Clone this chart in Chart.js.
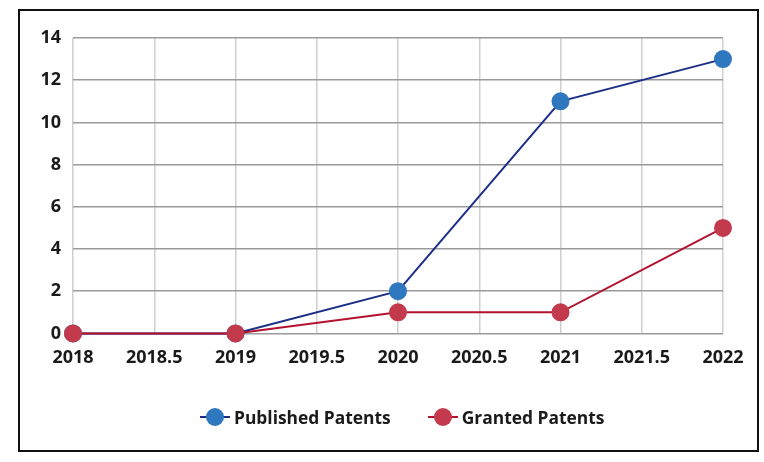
<!DOCTYPE html>
<html>
<head>
<meta charset="utf-8">
<script src="https://cdn.jsdelivr.net/npm/chart.js@4.4.0/dist/chart.umd.min.js"></script>
<style>
  body { margin: 0; background: #fff; }
  #wrap { position: relative; width: 764px; height: 462px; }
  #frame { position: absolute; left: 18px; top: 9px; width: 737px; height: 439px; border: 2px solid #111; }
  canvas { position: absolute; left: 0; top: 0; }
  #legend { position: absolute; left: 200px; top: 404px; display: flex; align-items: center;
    font-family: 'Open Sans', sans-serif; font-weight: bold; font-size: 17.4px; color: #1a1a1a; }
  .item { display: flex; align-items: center; margin-right: 37px; }
  .mark { width: 30px; height: 26px; margin-right: 4px; }
</style>
</head>
<body>
<div id="wrap">
  <div id="frame"></div>
  <canvas id="myChart" width="764" height="462"></canvas>
  <div id="legend"></div>
</div>
<script>
'use strict';

let years = [2018, 2019, 2020, 2021, 2022];
let publishedPatents = [0, 0, 2, 11, 13];
let grantedPatents = [0, 0, 1, 1, 5];
let yTicks = [0, 2, 4, 6, 8, 10, 12, 14];

function toPoints(values) {
  let pts = [];
  for (let i = 0; i < years.length; i++) {
    pts.push({ x: years[i], y: values[i] });
  }
  return pts;
}

let blueFill = '#2f78c0';
let blueLine = '#1c2f86';
let redFill = '#c23a4c';
let redLine = '#b3122e';

const chartGraphics = {
  type: 'scatter',
  data: {
    datasets: [{
      label: 'Published Patents',
      data: toPoints(publishedPatents),
      showLine: true,
      order: 2,
      clip: false,
      borderColor: blueLine,
      borderWidth: 2,
      backgroundColor: blueFill,
      pointBackgroundColor: blueFill,
      pointBorderColor: blueFill,
      pointRadius: 8,
      pointHoverRadius: 8
    },
    {
      label: 'Granted Patents',
      data: toPoints(grantedPatents),
      showLine: true,
      order: 1,
      clip: false,
      borderColor: redLine,
      borderWidth: 2,
      backgroundColor: redFill,
      pointBackgroundColor: redFill,
      pointBorderColor: redFill,
      pointRadius: 8,
      pointHoverRadius: 8
    }]
  },
  options: {
    responsive: false,
    animation: false,
    layout: { padding: { left: 10, right: 41, top: 38, bottom: 87 } },
    plugins: {
      tooltip: { enabled: false },
      legend: { display: false }
    },
    scales: {
      x: {
        type: 'linear',
        min: 2018,
        max: 2022,
        afterFit: function (axis) {
          axis.height = axis.height - 8;
        },
        ticks: {
          stepSize: 0.5,
          color: '#1a1a1a',
          padding: 14,
          font: { family: 'Open Sans', size: 18, weight: 'bold' },
          callback: function (v) { return String(v); }
        },
        grid: { color: '#cfcfcf', lineWidth: 1.5, drawTicks: false },
        border: { display: false }
      },
      y: {
        min: 0,
        max: 14,
        afterBuildTicks: function (axis) {
          axis.ticks = yTicks.map(function (v) { return { value: v }; });
        },
        afterFit: function (axis) {
          axis.width = 63;
        },
        ticks: {
          color: '#1a1a1a',
          padding: 12,
          font: { family: 'Open Sans', size: 18, weight: 'bold' }
        },
        grid: { color: '#9a9a9a', lineWidth: 1.5, drawTicks: false },
        border: { display: false }
      }
    }
  }
};

let canvasChart = document.getElementById('myChart').getContext('2d');
const myChart = new Chart(canvasChart, chartGraphics);

// html legend: a short line with a dot, then the series name
let legendBox = document.getElementById('legend');
myChart.data.datasets.forEach(function (ds) {
  let item = document.createElement('div');
  item.className = 'item';
  let mark = document.createElement('canvas');
  mark.className = 'mark';
  mark.width = 30;
  mark.height = 26;
  let ctx = mark.getContext('2d');
  ctx.strokeStyle = ds.borderColor;
  ctx.lineWidth = 2;
  ctx.beginPath();
  ctx.moveTo(0, 13);
  ctx.lineTo(30, 13);
  ctx.stroke();
  ctx.fillStyle = ds.pointBackgroundColor;
  ctx.beginPath();
  ctx.arc(15, 13, 9, 0, Math.PI * 2);
  ctx.fill();
  mark.style.position = 'static';
  let label = document.createElement('span');
  label.textContent = ds.label;
  item.appendChild(mark);
  item.appendChild(label);
  legendBox.appendChild(item);
});
</script>
</body>
</html>
